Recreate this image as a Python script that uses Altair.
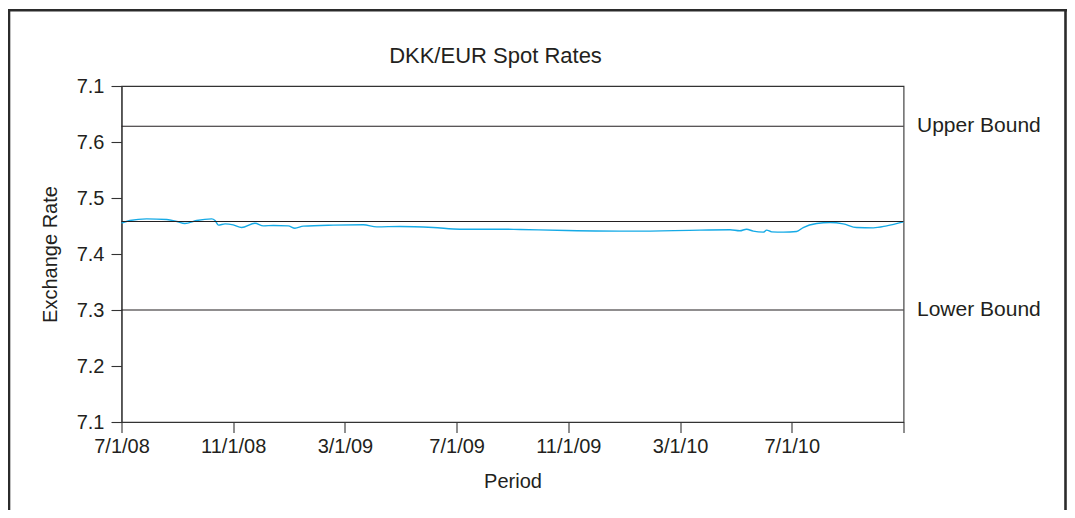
import altair as alt
import pandas as pd

# ---- data ----
# x position in months since 7/1/08
months = [0.0, 0.30, 0.90, 1.62, 1.98, 2.27, 2.69, 3.23, 3.35, 3.47, 3.71, 4.0, 4.30,
          4.78, 5.08, 5.44, 5.97, 6.21, 6.51, 7.58, 8.66, 9.14, 9.97, 11.16, 12.12,
          13.55, 14.27, 15.94, 18.32, 20.71, 21.79, 22.14, 22.38, 22.62, 22.98, 23.10,
          23.28, 23.70, 24.17, 24.41, 24.89, 25.37, 25.84, 26.32, 26.92, 27.40, 28.0]
rates = [7.4550, 7.4598, 7.4628, 7.4616, 7.4580, 7.4544, 7.4598, 7.4628, 7.4598, 7.4515,
         7.4538, 7.4520, 7.4473, 7.4550, 7.4503, 7.4509, 7.4503, 7.4461, 7.4497, 7.4515,
         7.4521, 7.4485, 7.4491, 7.4473, 7.4443, 7.4443, 7.4437, 7.4420, 7.4408, 7.4426,
         7.4432, 7.4414, 7.4443, 7.4408, 7.4390, 7.4426, 7.4396, 7.4390, 7.4402, 7.4473,
         7.4544, 7.4562, 7.4538, 7.4473, 7.4467, 7.4503, 7.4574]

bound_names = ["Upper Bound", "Central", "Lower Bound"]
bound_values = [7.628, 7.458, 7.300]
bound_labels = ["Upper Bound", "", "Lower Bound"]

x_tick_values = [0, 4, 8, 12, 16, 20, 24, 28]
x_tick_labels = ["7/1/08", "11/1/08", "3/1/09", "7/1/09", "11/1/09", "3/1/10", "7/1/10", ""]
y_tick_values = [7.1, 7.2, 7.3, 7.4, 7.5, 7.6, 7.7]
y_tick_labels = ["7.1", "7.2", "7.3", "7.4", "7.5", "7.6", "7.1"]

title_text = "DKK/EUR Spot Rates"

# ---- layout ----
W, H = 782, 336
PAD_L, PAD_T = 113.5, 78
TOTAL_W, TOTAL_H = 1059, 502
FONT = "Liberation Sans"
FS = 20
INK = "#231f20"

df = pd.DataFrame({"m": months, "rate": rates})
bounds = pd.DataFrame({"name": bound_names, "value": bound_values, "label": bound_labels})

x_labels_js = "[" + ",".join("'%s'" % s for s in x_tick_labels) + "]"
y_labels_js = "[" + ",".join("'%s'" % s for s in y_tick_labels) + "]"

x_scale = alt.Scale(domain=[0, 28], nice=False, zero=False)
y_scale = alt.Scale(domain=[7.1, 7.7], nice=False, zero=False)

x_axis = alt.Axis(values=x_tick_values, labelExpr=x_labels_js + "[round(datum.value/4)]",
                  title="Period", grid=False, tickSize=10.5, labelPadding=4,
                  titlePadding=15, labelFlush=False, labelOverlap=False)
y_axis = alt.Axis(values=y_tick_values, labelExpr=y_labels_js + "[round((datum.value-7.1)*10)]",
                  title="Exchange Rate", grid=False, tickSize=10.5, labelPadding=7,
                  titlePadding=16)

line = alt.Chart(df).mark_line(color="#15aae6", strokeWidth=1.4, interpolate="monotone").encode(
    x=alt.X("m:Q", scale=x_scale, axis=x_axis),
    y=alt.Y("rate:Q", scale=y_scale, axis=y_axis),
)

rules = alt.Chart(bounds).mark_rule(color=INK, strokeWidth=1.1).encode(
    y=alt.Y("value:Q", scale=y_scale),
)

labels = alt.Chart(bounds).mark_text(align="left", baseline="middle", dx=13.5,
                                     font=FONT, fontSize=21, color=INK).encode(
    x=alt.value(W),
    y=alt.Y("value:Q", scale=y_scale),
    text="label:N",
)

one = pd.DataFrame({"t": [title_text]})
title = alt.Chart(one).mark_text(align="center", baseline="middle", font=FONT,
                                 fontSize=22, color=INK).encode(
    x=alt.value(W / 2 - 17), y=alt.value(-30), text="t:N")

frame_style = dict(color="#2b2b2b", strokeWidth=2.6)
ox, oy = 8 + PAD_L, 8 + PAD_T  # page position of plot origin
frame_left = alt.Chart(one).mark_rule(**frame_style).encode(
    x=alt.value(9 - ox), y=alt.value(9 - oy), y2=alt.value(TOTAL_H))
frame_top = alt.Chart(one).mark_rule(**frame_style).encode(
    x=alt.value(7.7 - ox), x2=alt.value(1067 - ox), y=alt.value(10.3 - oy))
frame_right = alt.Chart(one).mark_rule(**frame_style).encode(
    x=alt.value(1065.5 - ox), y=alt.value(9 - oy), y2=alt.value(TOTAL_H))

chart = alt.layer(line, rules, labels, title, frame_left, frame_top, frame_right).properties(
    width=W, height=H,
    background="white",
    padding={"left": PAD_L, "top": PAD_T,
             "right": TOTAL_W - PAD_L - W, "bottom": TOTAL_H - PAD_T - H},
    autosize=alt.AutoSizeParams(type="none"),
).configure_view(
    stroke="#333333", strokeWidth=1.1
).configure_axis(
    domainColor="#333333", domainWidth=1.1, tickColor="#333333", tickWidth=1.1,
    labelFont=FONT, labelFontSize=FS, labelColor=INK,
    titleFont=FONT, titleFontSize=FS, titleColor=INK, titleFontWeight="normal",
)

chart.save("out.html", embed_options={"renderer": "svg", "actions": False})
